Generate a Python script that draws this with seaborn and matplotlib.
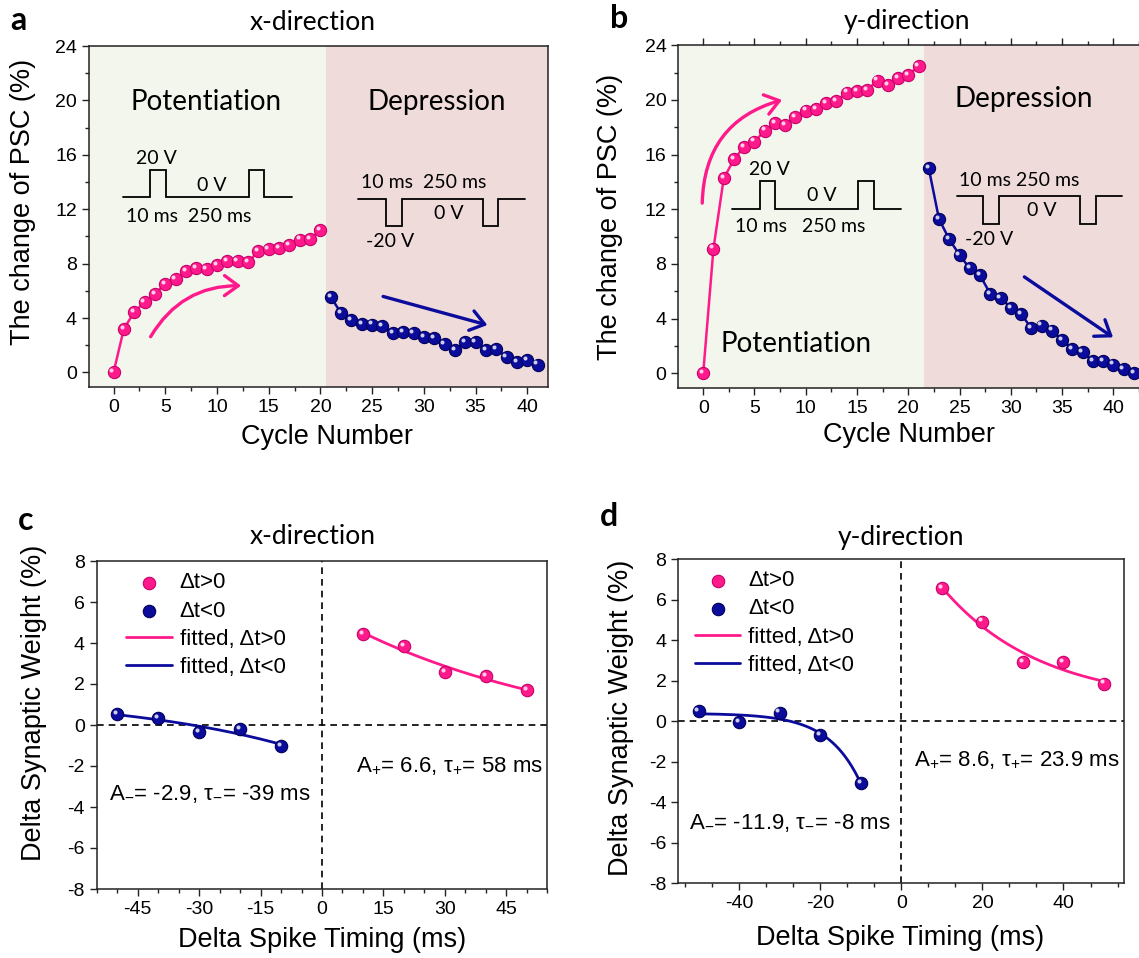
import numpy as np
import matplotlib
matplotlib.use('Agg')
import matplotlib.pyplot as plt
import seaborn as sns
from matplotlib.patches import FancyArrowPatch
from matplotlib.ticker import MultipleLocator, AutoMinorLocator, FixedLocator
from matplotlib.transforms import ScaledTranslation

# ---------------- data ----------------
cycles_a_pot = list(range(0, 21))
psc_a_pot = [0.0, 3.2, 4.44, 5.17, 5.78, 6.52, 6.89, 7.43, 7.67, 7.6, 7.87,
             8.16, 8.16, 8.11, 8.9, 9.07, 9.14, 9.34, 9.76, 9.83, 10.44]
cycles_a_dep = list(range(21, 42))
psc_a_dep = [5.54, 4.36, 3.87, 3.58, 3.51, 3.38, 2.89, 2.99, 2.89, 2.58, 2.53,
             2.11, 1.67, 2.21, 2.21, 1.67, 1.72, 1.13, 0.74, 0.88, 0.57]

cycles_b_pot = list(range(0, 22))
psc_b_pot = [0.0, 9.13, 14.26, 15.65, 16.58, 16.95, 17.76, 18.3, 18.17, 18.74, 19.22,
             19.32, 19.76, 19.93, 20.54, 20.67, 20.74, 21.42, 21.06, 21.6, 21.84, 22.45]
cycles_b_dep = list(range(22, 43))
psc_b_dep = [15.0, 11.28, 9.81, 8.66, 7.68, 7.17, 5.82, 5.53, 4.8, 4.36, 3.3,
             3.5, 3.13, 2.45, 1.79, 1.54, 0.88, 0.88, 0.64, 0.32, 0.0]

dt_pos = [10, 20, 30, 40, 50]
dt_neg = [-50, -40, -30, -20, -10]
w_c_pos = [4.44, 3.85, 2.57, 2.39, 1.69]
w_c_neg = [0.52, 0.33, -0.33, -0.2, -1.02]
w_d_pos = [6.56, 4.91, 2.92, 2.9, 1.85]
w_d_neg = [0.5, -0.06, 0.42, -0.7, -3.06]

yticks_psc = [0, 4, 8, 12, 16, 20, 24]
xticks_cycle = [0, 5, 10, 15, 20, 25, 30, 35, 40]
yticks_w = [-8, -6, -4, -2, 0, 2, 4, 6, 8]
xticks_c = [-45, -30, -15, 0, 15, 30, 45]
xticks_d = [-40, -20, 0, 20, 40]

# ---------------- style ----------------
sns.set_theme(style='white')
plt.rcParams['font.family'] = ['Liberation Sans', 'DejaVu Sans']
plt.rcParams['mathtext.fontset'] = 'custom'
plt.rcParams['mathtext.rm'] = 'Liberation Sans'
plt.rcParams['mathtext.it'] = 'Liberation Sans:italic'
plt.rcParams['mathtext.bf'] = 'Liberation Sans:bold'
plt.rcParams['axes.unicode_minus'] = False
plt.rcParams['text.color'] = 'black'
plt.rcParams['axes.labelcolor'] = 'black'
plt.rcParams['xtick.color'] = 'black'
plt.rcParams['ytick.color'] = 'black'

PINK, PINK_E = '#FF1A8C', '#C8006A'
BLUE, BLUE_E = '#0B0B9C', '#00005A'
BG_POT, BG_DEP = '#F3F6EC', '#F0DBDB'
CAL = ['Lato', 'DejaVu Sans']

W, H = 1139, 958
fig = plt.figure(figsize=(W / 100, H / 100), dpi=100)


def add_ax(l, t, r, b):
    return fig.add_axes([l / W, 1 - b / H, (r - l) / W, (b - t) / H])


def ftext(x, y, s, **kw):
    fig.text(x / W, 1 - y / H, s, color='black', **kw)


ax_a = add_ax(88.7, 46, 548, 386.7)
ax_b = add_ax(678.3, 45.3, 1141.5, 387.7)
ax_c = add_ax(96.7, 561, 547.3, 889)
ax_d = add_ax(678.3, 559, 1124.3, 883.3)

HL = ScaledTranslation(-0.022, 0.022, fig.dpi_scale_trans)


def highlight(ax, x, y, ms):
    ax.plot(x, y, 'o', ms=ms * 0.33, color='white', alpha=0.8, mec='none',
            transform=ax.transData + HL, zorder=6)


def series(ax, x, y, color, edge, ms=8.8):
    sns.lineplot(x=x, y=y, ax=ax, color=color, lw=1.8, marker='o', markersize=ms,
                 markeredgecolor=edge, markeredgewidth=0.8, zorder=5)
    highlight(ax, x, y, ms)


def style_axes(ax):
    for s in ax.spines.values():
        s.set_color('#222222')
        s.set_linewidth(1.1)
        s.set_visible(True)
    ax.tick_params(axis='both', which='both', bottom=True, left=True, direction='out',
                   colors='#222222', labelcolor='black', labelsize=14, width=1)
    ax.tick_params(which='major', length=5)
    ax.tick_params(which='minor', length=3)
    ax.set_xlabel('')
    ax.set_ylabel('')


# ---------------- panels a & b ----------------
for ax, xp, yp, xd, yd, split, xlim in [
        (ax_a, cycles_a_pot, psc_a_pot, cycles_a_dep, psc_a_dep, 20.5, (-2.4, 42.0)),
        (ax_b, cycles_b_pot, psc_b_pot, cycles_b_dep, psc_b_dep, 21.5, (-2.43, 42.75))]:
    ax.axvspan(xlim[0], split, color=BG_POT, zorder=0, lw=0)
    ax.axvspan(split, xlim[1], color=BG_DEP, zorder=0, lw=0)
    series(ax, xp, yp, PINK, PINK_E)
    series(ax, xd, yd, BLUE, BLUE_E)
    ax.set_xlim(*xlim)
    ax.set_ylim(-1.05, 24)
    ax.xaxis.set_major_locator(FixedLocator(xticks_cycle))
    ax.xaxis.set_minor_locator(MultipleLocator(2.5))
    ax.yaxis.set_major_locator(FixedLocator(yticks_psc))
    ax.yaxis.set_minor_locator(MultipleLocator(2))
    style_axes(ax)

ax_b.tick_params(axis='x', which='both', top=True)


def pulse(ax, xs, ys, texts):
    ax.plot(xs, ys, color='black', lw=1.3, zorder=4, solid_joinstyle='miter')
    for (x, y, s) in texts:
        ax.text(x, y, s, ha='center', va='center', fontsize=14, family=CAL, zorder=4)


# panel a inset pulses
pulse(ax_a, [0.91, 3.55, 3.55, 5.09, 5.09, 13.08, 13.08, 14.59, 14.59, 17.24],
      [12.87, 12.87, 14.85, 14.85, 12.87, 12.87, 14.85, 14.85, 12.87, 12.87],
      [(4.1, 15.76, '20 V'), (9.5, 13.75, '0 V'), (7.31, 11.47, '10 ms  250 ms')])
pulse(ax_a, [23.67, 26.32, 26.32, 27.86, 27.86, 35.69, 35.69, 37.2, 37.2, 39.78],
      [12.77, 12.77, 10.74, 10.74, 12.77, 12.77, 10.74, 10.74, 12.77, 12.77],
      [(29.99, 14.0, '10 ms  250 ms'), (32.37, 11.72, '0 V'), (26.73, 9.63, '-20 V')])
ax_a.text(8.96, 19.9, 'Potentiation', ha='center', va='center', fontsize=20, family=CAL)
ax_a.text(31.25, 19.9, 'Depression', ha='center', va='center', fontsize=20, family=CAL)

# panel b inset pulses
pulse(ax_b, [2.82, 5.52, 5.52, 7.05, 7.05, 15.09, 15.09, 16.64, 16.64, 19.31],
      [12.06, 12.06, 14.09, 14.09, 12.06, 12.06, 14.09, 14.09, 12.06, 12.06],
      [(6.49, 14.92, '20 V'), (11.52, 12.99, '0 V'), (9.48, 10.76, '10 ms   250 ms')])
pulse(ax_b, [24.72, 27.32, 27.32, 28.88, 28.88, 36.76, 36.76, 38.29, 38.29, 40.88],
      [13.01, 13.01, 10.93, 10.93, 13.01, 13.01, 10.93, 10.93, 13.01, 13.01],
      [(30.82, 14.14, '10 ms 250 ms'), (32.99, 11.89, '0 V'), (27.84, 9.79, '-20 V')])
ax_b.text(9.02, 2.16, 'Potentiation', ha='center', va='center', fontsize=20, family=CAL)
ax_b.text(31.28, 20.06, 'Depression', ha='center', va='center', fontsize=20, family=CAL)


def arrow(ax, a, b, color, rad):
    ax.add_patch(FancyArrowPatch(a, b, arrowstyle='->,head_length=0.55,head_width=0.4',
                                 mutation_scale=18, color=color, lw=2.4,
                                 connectionstyle=f'arc3,rad={rad}', zorder=4))


arrow(ax_a, (3.45, 2.45), (12.6, 6.37), PINK, -0.3)
arrow(ax_a, (25.8, 5.64), (36.4, 3.43), BLUE, 0.0)
arrow(ax_b, (-0.1, 12.25), (7.95, 20.06), PINK, -0.38)
arrow(ax_b, (31.1, 7.17), (40.2, 2.52), BLUE, 0.0)


# ---------------- panels c & d ----------------
def exp_fit(t, w, sign):
    t = np.asarray(t, float)
    w = np.asarray(w, float)
    best = None
    for tau in np.linspace(2, 400, 4000):
        M = np.column_stack([np.exp(sign * t / tau), np.ones_like(t)])
        coef, *_ = np.linalg.lstsq(M, w, rcond=None)
        err = np.sum((M @ coef - w) ** 2)
        if best is None or err < best[0]:
            best = (err, tau, coef)
    _, tau, coef = best
    tt = np.linspace(t.min(), t.max(), 200)
    return tt, coef[0] * np.exp(sign * tt / tau) + coef[1]


for ax, wp, wn, xt, minor in [(ax_c, w_c_pos, w_c_neg, xticks_c, MultipleLocator(5)),
                              (ax_d, w_d_pos, w_d_neg, xticks_d, AutoMinorLocator(3))]:
    ax.axhline(0, ls=(0, (4, 3)), color='black', lw=1.2, zorder=1)
    ax.axvline(0, ls=(0, (4, 3)), color='black', lw=1.2, zorder=1)
    tp, fp = exp_fit(dt_pos, wp, -1)
    tn, fn = exp_fit(dt_neg, wn, +1)
    sns.lineplot(x=tp, y=fp, ax=ax, color=PINK, lw=2, label='fitted, Δt>0', zorder=3)
    sns.lineplot(x=tn, y=fn, ax=ax, color=BLUE, lw=2, label='fitted, Δt<0', zorder=3)
    sns.scatterplot(x=dt_pos, y=wp, ax=ax, color=PINK, s=80, edgecolor=PINK_E,
                    linewidth=0.8, label='Δt>0', zorder=5)
    sns.scatterplot(x=dt_neg, y=wn, ax=ax, color=BLUE, s=80, edgecolor=BLUE_E,
                    linewidth=0.8, label='Δt<0', zorder=5)
    highlight(ax, dt_pos, wp, 8.9)
    highlight(ax, dt_neg, wn, 8.9)
    ax.set_xlim(-55, 55)
    ax.set_ylim(-8, 8)
    ax.xaxis.set_major_locator(FixedLocator(xt))
    ax.xaxis.set_minor_locator(minor)
    ax.yaxis.set_major_locator(FixedLocator(yticks_w))
    style_axes(ax)
    ax.tick_params(axis='y', which='minor', left=False)
    h, l = ax.get_legend_handles_labels()
    order = ['Δt>0', 'Δt<0', 'fitted, Δt>0', 'fitted, Δt<0']
    hh = [h[l.index(o)] for o in order]
    x0 = 0.066 if ax is ax_c else 0.037
    leg = ax.legend(hh, order, loc='upper left', bbox_to_anchor=(x0, 0.965), frameon=False,
                    fontsize=16, borderaxespad=0, borderpad=0, handlelength=2.05,
                    handletextpad=0.35, labelspacing=0.32)
    for t in leg.get_texts():
        t.set_color('black')

ax_c.text(-51.9, -3.4, r'A$_{-}$= -2.9, τ$_{-}$= -39 ms', fontsize=16, va='center', ha='left', color='black')
ax_c.text(8.4, -2.03, r'A$_{+}$= 6.6, τ$_{+}$= 58 ms', fontsize=16, va='center', ha='left', color='black')
ax_d.text(3.1, -1.91, r'A$_{+}$= 8.6, τ$_{+}$= 23.9 ms', fontsize=16, va='center', ha='left', color='black')
ax_d.text(-52.4, -5.04, r'A$_{-}$= -11.9, τ$_{-}$= -8 ms', fontsize=16, va='center', ha='left', color='black')

# ---------------- labels ----------------
for x, y, s in [(23, 201.7, 'The change of PSC (%)'), (610, 216.5, 'The change of PSC (%)'),
                (34, 702.5, 'Delta Synaptic Weight (%)'), (621, 718, 'Delta Synaptic Weight (%)')]:
    ftext(x, y, s, rotation=90, ha='center', va='center', fontsize=19.5)
for x, y, s in [(327, 437, 'Cycle Number'), (909, 435, 'Cycle Number'),
                (322, 940, 'Delta Spike Timing (ms)'), (900, 938, 'Delta Spike Timing (ms)')]:
    ftext(x, y, s, ha='center', va='center', fontsize=19.5)
for x, y, s in [(313, 22, 'x-direction'), (907, 22, 'y-direction'),
                (313, 537, 'x-direction'), (901, 537, 'y-direction')]:
    ftext(x, y, s, ha='center', va='center', fontsize=19, family=CAL)
for x, y, s in [(18, 20, 'a'), (619, 19, 'b'), (26, 521, 'c'), (609, 516, 'd')]:
    ftext(x, y, s, ha='center', va='center', fontsize=23, fontweight='bold', family=CAL)

fig.savefig('out.png', dpi=100)
